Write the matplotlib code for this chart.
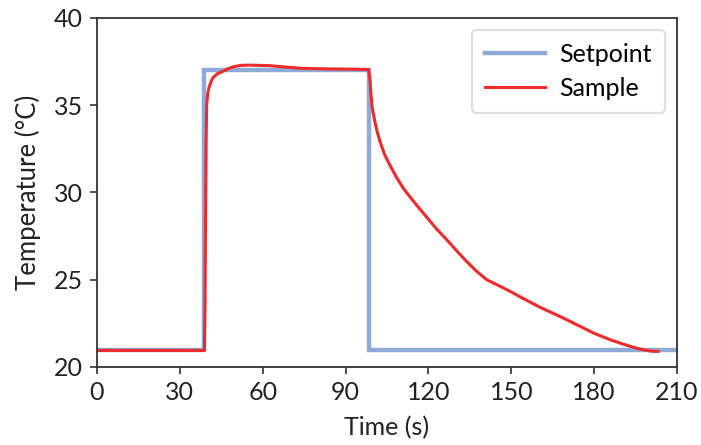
import matplotlib
matplotlib.use("Agg")
import matplotlib.pyplot as plt

plt.rcParams['font.family'] = ['Lato', 'DejaVu Sans']

# Setpoint (step profile)
setpoint_time = [0, 38.7, 38.7, 98.6, 98.6, 210]
setpoint_temp = [21.0, 21.0, 37.0, 37.0, 21.0, 21.0]

# Sample temperature
sample_time = [0, 10, 20, 30, 38.9, 39.1, 39.3, 39.5, 39.7, 40.1, 40.7, 41.4, 42.1,
               43.5, 45.7, 47.5, 49.3, 51.8, 55, 60, 62.6, 66, 69.9, 74, 78.2, 84,
               90, 97.6, 98.3, 98.8, 99.2, 99.6, 100.6, 101.5, 102.5, 104.2, 106.1,
               108.5, 110.9, 113.3, 115.7, 119.3, 123, 126.6, 130, 133.5, 137,
               141.1, 145, 150, 153.1, 160, 167.6, 174, 179.7, 186, 191.7, 196,
               199, 201, 203.2]
sample_temp = [20.95, 20.95, 20.95, 20.95, 20.95, 23.5, 28.5, 32.8, 35.0, 35.7,
               36.1, 36.4, 36.6, 36.8, 36.95, 37.1, 37.2, 37.28, 37.3, 37.28, 37.27,
               37.22, 37.17, 37.12, 37.1, 37.08, 37.07, 37.05, 37.05, 36.5, 35.6,
               34.9, 34.06, 33.45, 32.9, 32.15, 31.55, 30.85, 30.24, 29.75, 29.28,
               28.6, 27.9, 27.3, 26.7, 26.1, 25.55, 25.0, 24.7, 24.3, 24.03, 23.45,
               22.9, 22.4, 21.95, 21.55, 21.25, 21.05, 20.95, 20.9, 20.9]

fig = plt.figure(figsize=(7.01, 4.45), dpi=100)
ax = fig.add_axes([97/701, 1-367/445, 580/701, 349/445])

ax.plot(setpoint_time, setpoint_temp, color='#8faad6', lw=3.2, label='Setpoint',
        solid_joinstyle='miter')
ax.plot(sample_time, sample_temp, color='#ee2a2a', lw=2.2, label='Sample')

ax.set_xlim(0, 210)
ax.set_ylim(20, 40)
ax.set_xticks(range(0, 211, 30))
ax.set_yticks(range(20, 41, 5))
ax.set_xlabel('Time (s)', fontsize=18, color='#222222', labelpad=9)
ax.set_ylabel('Temperature (°C)', fontsize=18.5, color='#222222', labelpad=9)
ax.tick_params(labelsize=18, colors='#222222', length=5, width=1.2, direction='out', pad=5)
ax.tick_params(axis='both', color='#333333')
for s in ax.spines.values():
    s.set_color('#333333')
    s.set_linewidth(1.3)

leg = ax.legend(loc='upper right', fontsize=18, frameon=True, fancybox=True,
                handlelength=2.4, handletextpad=0.6, borderpad=0.5,
                labelspacing=0.45, borderaxespad=0.5)
leg.get_frame().set_edgecolor('#d8d8d8')
leg.get_frame().set_linewidth(1.5)

fig.savefig('out.png', dpi=100)
